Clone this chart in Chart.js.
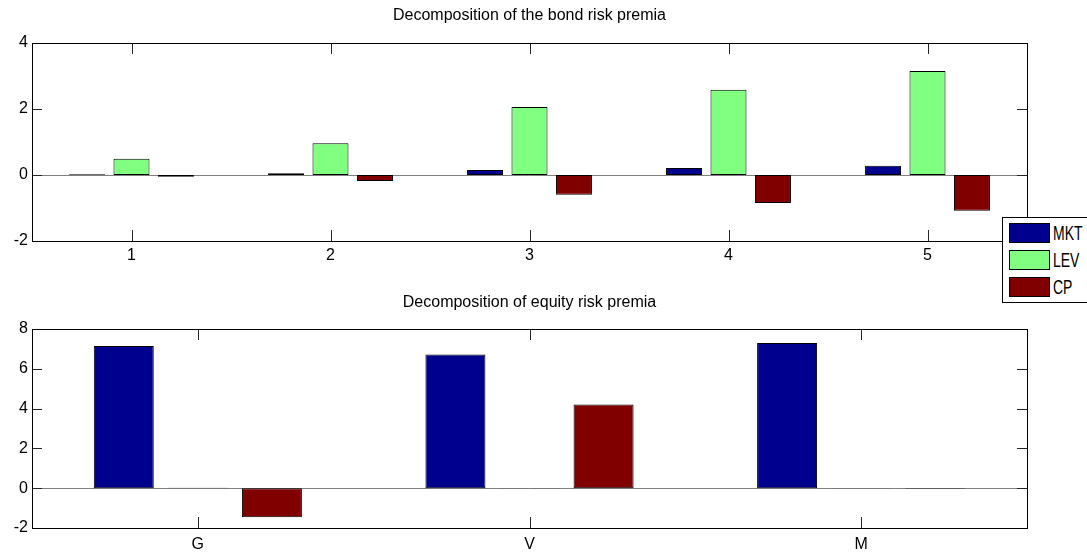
<!DOCTYPE html>
<html>
<head>
<meta charset="utf-8">
<script src="https://cdn.jsdelivr.net/npm/chart.js@4.4.0/dist/chart.umd.min.js"></script>
<style>
  body { margin: 0; background: #fff; }
  #wrap { position: relative; width: 1087px; height: 552px; overflow: hidden; }
  .box { position: absolute; left: 0; width: 1087px; height: 276px; }
  #legend { position: absolute; left: 1002px; top: 217px; width: 100px; height: 84px;
            border: 1px solid #000; background: #fff; z-index: 5;
            font-family: 'Liberation Sans', Arial, sans-serif; font-size: 20px; }
  .item { position: absolute; left: 6px; height: 20px; }
  .sw { position: absolute; left: 0; top: 0; width: 39px; height: 18px; border: 1px solid #000; }
  .lab { position: absolute; left: 44px; top: 0; line-height: 20px; white-space: nowrap;
         transform: scaleX(0.7); transform-origin: left center; }
</style>
</head>
<body>
<div id="wrap">
  <div class="box" style="top:0"><canvas id="bondChart"></canvas></div>
  <div class="box" style="top:276px"><canvas id="equityChart"></canvas></div>
  <div id="legend"></div>
</div>
<script>
var seriesNames = ['MKT', 'LEV', 'CP'];
var seriesColors = ['#00008f', '#80ff80', '#800000'];

var bondLabels = ['1', '2', '3', '4', '5'];
var bondMKT = [0.02, 0.05, 0.15, 0.21, 0.28];
var bondLEV = [0.49, 0.96, 2.06, 2.58, 3.15];
var bondCP = [-0.05, -0.18, -0.60, -0.85, -1.08];

var equityLabels = ['G', 'V', 'M'];
var equityMKT = [7.15, 6.72, 7.30];
var equityLEV = [0.02, 0.01, 0.01];
var equityCP = [-1.46, 4.20, -0.03];

var fontFamily = "'Liberation Sans', Arial, sans-serif";

// zero baseline, box and inward ticks like the matlab axes
var axesBox = {
    id: 'axesBox',
    beforeDatasetsDraw: function(chart) {
        var ctx = chart.ctx, a = chart.chartArea;
        var y0 = Math.round(chart.scales.y.getPixelForValue(0)) + 0.5;
        ctx.save();
        ctx.strokeStyle = '#808080';
        ctx.lineWidth = 1;
        ctx.beginPath();
        ctx.moveTo(a.left, y0);
        ctx.lineTo(a.right, y0);
        ctx.stroke();
        ctx.restore();
    },
    afterDraw: function(chart) {
        var ctx = chart.ctx, a = chart.chartArea;
        var x = chart.scales.x, y = chart.scales.y;
        ctx.save();
        ctx.strokeStyle = '#262626';
        ctx.lineWidth = 1;
        ctx.beginPath();
        x.ticks.forEach(function(t, i) {
            var px = Math.round(x.getPixelForTick(i)) + 0.5;
            ctx.moveTo(px, a.bottom); ctx.lineTo(px, a.bottom - 11);
            ctx.moveTo(px, a.top); ctx.lineTo(px, a.top + 11);
        });
        y.ticks.forEach(function(t, i) {
            var py = Math.round(y.getPixelForTick(i)) + 0.5;
            ctx.moveTo(a.left, py); ctx.lineTo(a.left + 10, py);
            ctx.moveTo(a.right, py); ctx.lineTo(a.right - 10, py);
        });
        ctx.stroke();
        ctx.strokeStyle = '#000';
        ctx.strokeRect(Math.round(a.left) + 0.5, Math.round(a.top) + 0.5,
                       Math.round(a.right - a.left), Math.round(a.bottom - a.top));
        ctx.restore();
    }
};

function makeDatasets(values) {
    return values.map(function(v, i) {
        return {
            label: seriesNames[i],
            data: v,
            backgroundColor: seriesColors[i],
            borderColor: '#000',
            borderWidth: 1,
            borderSkipped: false,
            barPercentage: 0.81,
            categoryPercentage: 0.67
        };
    });
}

function makeChart(id, labels, values, title, ymax, titlePad, xHeight, xPad) {
    var ctx = document.getElementById(id).getContext('2d');
    return new Chart(ctx, {
        type: 'bar',
        data: { labels: labels, datasets: makeDatasets(values) },
        options: {
            responsive: true,
            maintainAspectRatio: false,
            animation: false,
            layout: { padding: { left: 0, right: 60, top: 0, bottom: 0 } },
            plugins: {
                legend: { display: false },
                tooltip: { enabled: false },
                title: {
                    display: true,
                    text: title,
                    fullSize: false,
                    color: '#000',
                    font: { family: fontFamily, size: 16, weight: 'normal', lineHeight: 1.2 },
                    padding: titlePad
                }
            },
            scales: {
                x: {
                    grid: { display: false, drawTicks: false },
                    border: { display: false },
                    ticks: { color: '#000', padding: xPad, font: { family: fontFamily, size: 16 } },
                    afterFit: function(s) { s.height = xHeight; }
                },
                y: {
                    min: -2,
                    max: ymax,
                    grid: { display: false, drawTicks: false },
                    border: { display: false },
                    ticks: { stepSize: 2, color: '#000', padding: 4, font: { family: fontFamily, size: 16 } },
                    afterFit: function(s) { s.width = 32; }
                }
            }
        },
        plugins: [axesBox]
    });
}

makeChart('bondChart', bondLabels, [bondMKT, bondLEV, bondCP],
          'Decomposition of the bond risk premia', 4, { top: 6.4, bottom: 17.4 }, 35, 5.4);
makeChart('equityChart', equityLabels, [equityMKT, equityLEV, equityCP],
          'Decomposition of equity risk premia', 8, { top: 17.4, bottom: 16.4 }, 24, 7.4);

// legend between the two panels
var legend = document.getElementById('legend');
var legendTops = [5, 32, 59];
seriesNames.forEach(function(name, i) {
    var item = document.createElement('div');
    item.className = 'item';
    item.style.top = legendTops[i] + 'px';
    item.innerHTML = '<div class="sw" style="background:' + seriesColors[i] + '"></div>' +
                     '<div class="lab">' + name + '</div>';
    legend.appendChild(item);
});
</script>
</body>
</html>
